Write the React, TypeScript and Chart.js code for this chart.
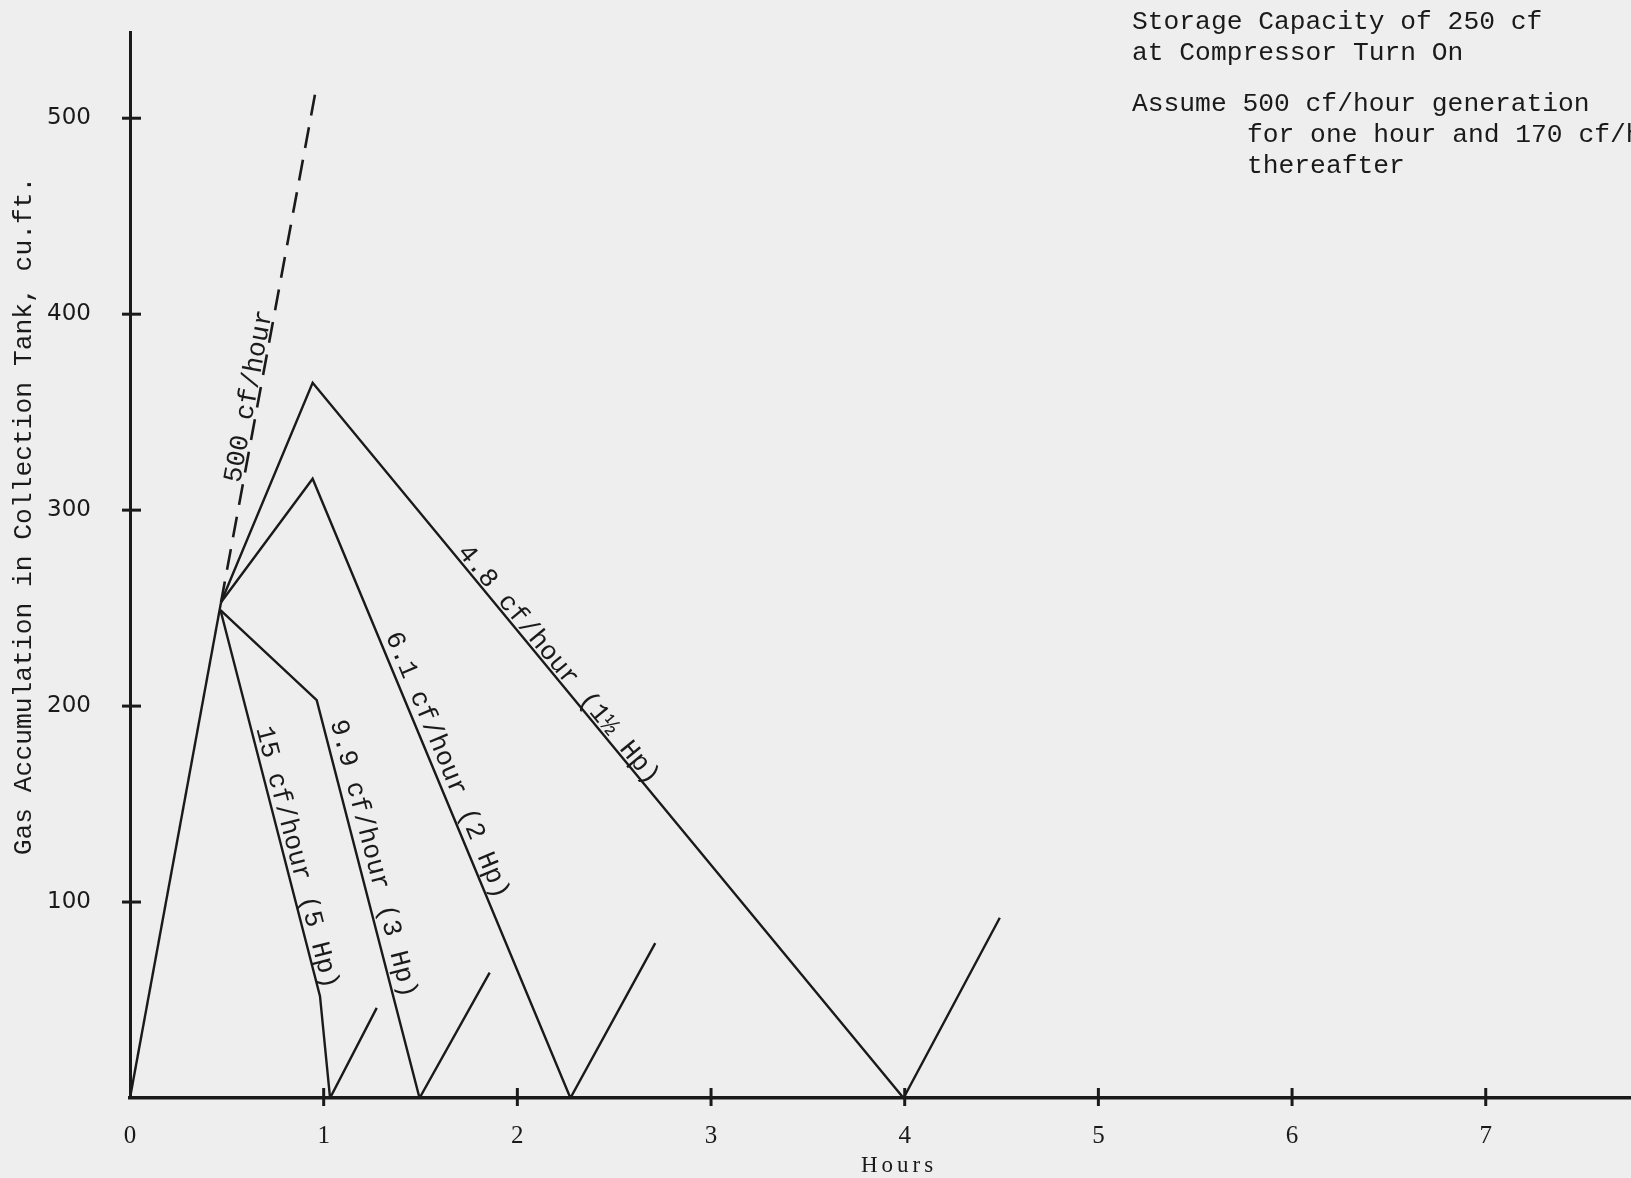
import React, { useEffect, useRef } from "react";
import { Chart, registerables } from "chart.js";

Chart.register(...registerables);

// ---------------- data (hours vs. cu.ft.) ----------------
const xTickValues = [0, 1, 2, 3, 4, 5, 6, 7];
const yTickValues = [100, 200, 300, 400, 500];
const xAxisMax = 7.75;
const yAxisMax = 544;

// filling at 500 cf/hour until the 250 cf turn-on point
const fillHours = [0, 0.47];
const fillGas = [0, 253];

// 500 cf/hour continued (dashed)
const genHours = [0.47, 0.955];
const genGas = [253, 512];

// compressor at 4.8 cf/hour (1 1/2 Hp)
const r48Hours = [0.47, 0.943, 3.994, 4.491];
const r48Gas = [253, 365, 0, 92];

// compressor at 6.1 cf/hour (2 Hp)
const r61Hours = [0.47, 0.943, 2.274, 2.712];
const r61Gas = [253, 316, 0, 79];

// compressor at 9.9 cf/hour (3 Hp)
const r99Hours = [0.467, 0.964, 1.495, 1.857];
const r99Gas = [249, 203, 0, 64];

// compressor at 15 cf/hour (5 Hp)
const r15Hours = [0.467, 0.981, 1.033, 1.274];
const r15Gas = [249, 52, 0, 46];

const yTitle = "Gas Accumulation in Collection Tank, cu.ft.";
const xTitle = "Hours";
const notes = [
  "Storage Capacity of 250 cf",
  "at Compressor Turn On",
  "Assume 500 cf/hour generation",
  "for one hour and 170 cf/hour",
  "thereafter",
];

// ---------------- styling ----------------
const INK = "#1a1a1a";
const PAPER = "#eeeeee";
const MONO = '"Liberation Mono", "DejaVu Sans Mono", monospace';

const lineLabels = [
  { text: "500 cf/hour", hours: genHours, gas: genGas, seg: 0, t: 0.233, offset: 3 },
  { text: "4.8 cf/hour (1½ Hp)", hours: r48Hours, gas: r48Gas, seg: 1, t: 0.24, offset: 3 },
  { text: "6.1 cf/hour (2 Hp)", hours: r61Hours, gas: r61Gas, seg: 1, t: 0.258, offset: 7 },
  { text: "9.9 cf/hour (3 Hp)", hours: r99Hours, gas: r99Gas, seg: 1, t: 0.06, offset: 8 },
  { text: "15 cf/hour (5 Hp)", hours: r15Hours, gas: r15Gas, seg: 0, t: 0.31, offset: 5 },
];

const noteLayout = [
  { x: 1132, y: 29 },
  { x: 1132, y: 59.5 },
  { x: 1132, y: 110.5 },
  { x: 1247, y: 142 },
  { x: 1247, y: 172.5 },
];

function pts(h: number[], g: number[]) {
  return h.map((x, i) => ({ x, y: g[i] }));
}

function lineDs(h: number[], g: number[], dash?: number[]) {
  return {
    data: pts(h, g),
    showLine: true,
    borderColor: INK,
    backgroundColor: INK,
    borderWidth: dash ? 2.6 : 2.4,
    borderDash: dash || [],
    pointRadius: 0,
    fill: false,
    tension: 0,
  };
}

const paperPlugin = {
  id: "paperPlugin",
  beforeDraw(chart: any) {
    const { ctx, width, height } = chart;
    ctx.save();
    ctx.fillStyle = PAPER;
    ctx.fillRect(0, 0, width, height);
    ctx.restore();
  },
  afterDraw(chart: any) {
    const { ctx, chartArea } = chart;
    const xs = chart.scales.x;
    const ys = chart.scales.y;
    ctx.save();
    ctx.strokeStyle = INK;
    ctx.lineWidth = 3;
    ctx.lineCap = "butt";
    // tick marks crossing the axes
    for (const v of yTickValues) {
      const py = ys.getPixelForValue(v);
      ctx.beginPath();
      ctx.moveTo(chartArea.left - 8, py);
      ctx.lineTo(chartArea.left + 11, py);
      ctx.stroke();
    }
    for (const v of xTickValues) {
      if (v === 0) continue;
      const px = xs.getPixelForValue(v);
      ctx.beginPath();
      ctx.moveTo(px, chartArea.bottom - 10);
      ctx.lineTo(px, chartArea.bottom + 8);
      ctx.stroke();
    }

    // labels along the lines
    ctx.fillStyle = INK;
    ctx.font = `26.5px ${MONO}`;
    ctx.textAlign = "left";
    ctx.textBaseline = "alphabetic";
    for (const lb of lineLabels) {
      const x1 = xs.getPixelForValue(lb.hours[lb.seg]);
      const y1 = ys.getPixelForValue(lb.gas[lb.seg]);
      const x2 = xs.getPixelForValue(lb.hours[lb.seg + 1]);
      const y2 = ys.getPixelForValue(lb.gas[lb.seg + 1]);
      const a = Math.atan2(y2 - y1, x2 - x1);
      const ux = Math.sin(a);
      const uy = -Math.cos(a);
      const px = x1 + (x2 - x1) * lb.t + ux * lb.offset;
      const py = y1 + (y2 - y1) * lb.t + uy * lb.offset;
      ctx.save();
      ctx.translate(px, py);
      ctx.rotate(a);
      ctx.fillText(lb.text, 0, 0);
      ctx.restore();
    }

    // notes, top right
    ctx.font = `26.3px ${MONO}`;
    notes.forEach((n, i) => {
      ctx.fillText(n, noteLayout[i].x, noteLayout[i].y);
    });

    // y axis title
    ctx.save();
    ctx.translate(31, 516);
    ctx.rotate(-Math.PI / 2);
    ctx.textAlign = "center";
    ctx.font = `26.3px ${MONO}`;
    ctx.fillText(yTitle, 0, 0);
    ctx.restore();

    // x axis title
    ctx.save();
    ctx.font = '23px "Liberation Serif", serif';
    (ctx as any).letterSpacing = "4px";
    ctx.textAlign = "center";
    ctx.fillText(xTitle, 899, 1172);
    ctx.restore();

    ctx.restore();
  },
};

export default function App() {
  const canvasRef = useRef<HTMLCanvasElement | null>(null);

  useEffect(() => {
    if (!canvasRef.current) return;
    const chart = new Chart(canvasRef.current, {
      type: "scatter",
      data: {
        datasets: [
          lineDs(fillHours, fillGas),
          lineDs(genHours, genGas, [21, 12]),
          lineDs(r48Hours, r48Gas),
          lineDs(r61Hours, r61Gas),
          lineDs(r99Hours, r99Gas),
          lineDs(r15Hours, r15Gas),
        ] as any,
      },
      options: {
        animation: false,
        responsive: false,
        devicePixelRatio: 1,
        layout: { padding: { top: 32, left: 0, right: 0, bottom: 0 } },
        plugins: {
          legend: { display: false },
          tooltip: { enabled: false },
          title: { display: false },
        },
        scales: {
          x: {
            type: "linear",
            min: 0,
            max: xAxisMax,
            afterFit: (s: any) => {
              s.height = 80;
              s.paddingLeft = 0;
              s.paddingRight = 0;
              s.paddingTop = 0;
              s.paddingBottom = 0;
            },
            afterBuildTicks: (s: any) => {
              s.ticks = xTickValues.map((v) => ({ value: v }));
            },
            grid: { display: false, drawTicks: false },
            border: { display: true, color: INK, width: 3.5 },
            ticks: {
              color: INK,
              font: { family: '"Liberation Serif", serif', size: 25 },
              padding: 23,
              maxRotation: 0,
              autoSkip: false,
              callback: (v: any) => String(v),
            },
          },
          y: {
            type: "linear",
            min: 0,
            max: yAxisMax,
            afterFit: (s: any) => {
              s.width = 130;
              s.paddingLeft = 0;
              s.paddingRight = 0;
              s.paddingTop = 0;
              s.paddingBottom = 0;
            },
            afterBuildTicks: (s: any) => {
              s.ticks = yTickValues.map((v) => ({ value: v }));
            },
            grid: { display: false, drawTicks: false },
            border: { display: true, color: INK, width: 3 },
            ticks: {
              color: INK,
              font: { family: '"DejaVu Sans", sans-serif', size: 23 },
              padding: 39,
              autoSkip: false,
              callback: (v: any) => String(v),
            },
          },
        },
      } as any,
      plugins: [paperPlugin],
    });
    return () => chart.destroy();
  }, []);

  return (
    <div style={{ position: "fixed", left: 0, top: 0, width: 1631, height: 1178, overflow: "hidden" }}>
      <canvas ref={canvasRef} width={1631} height={1178} style={{ display: "block" }} />
    </div>
  );
}
